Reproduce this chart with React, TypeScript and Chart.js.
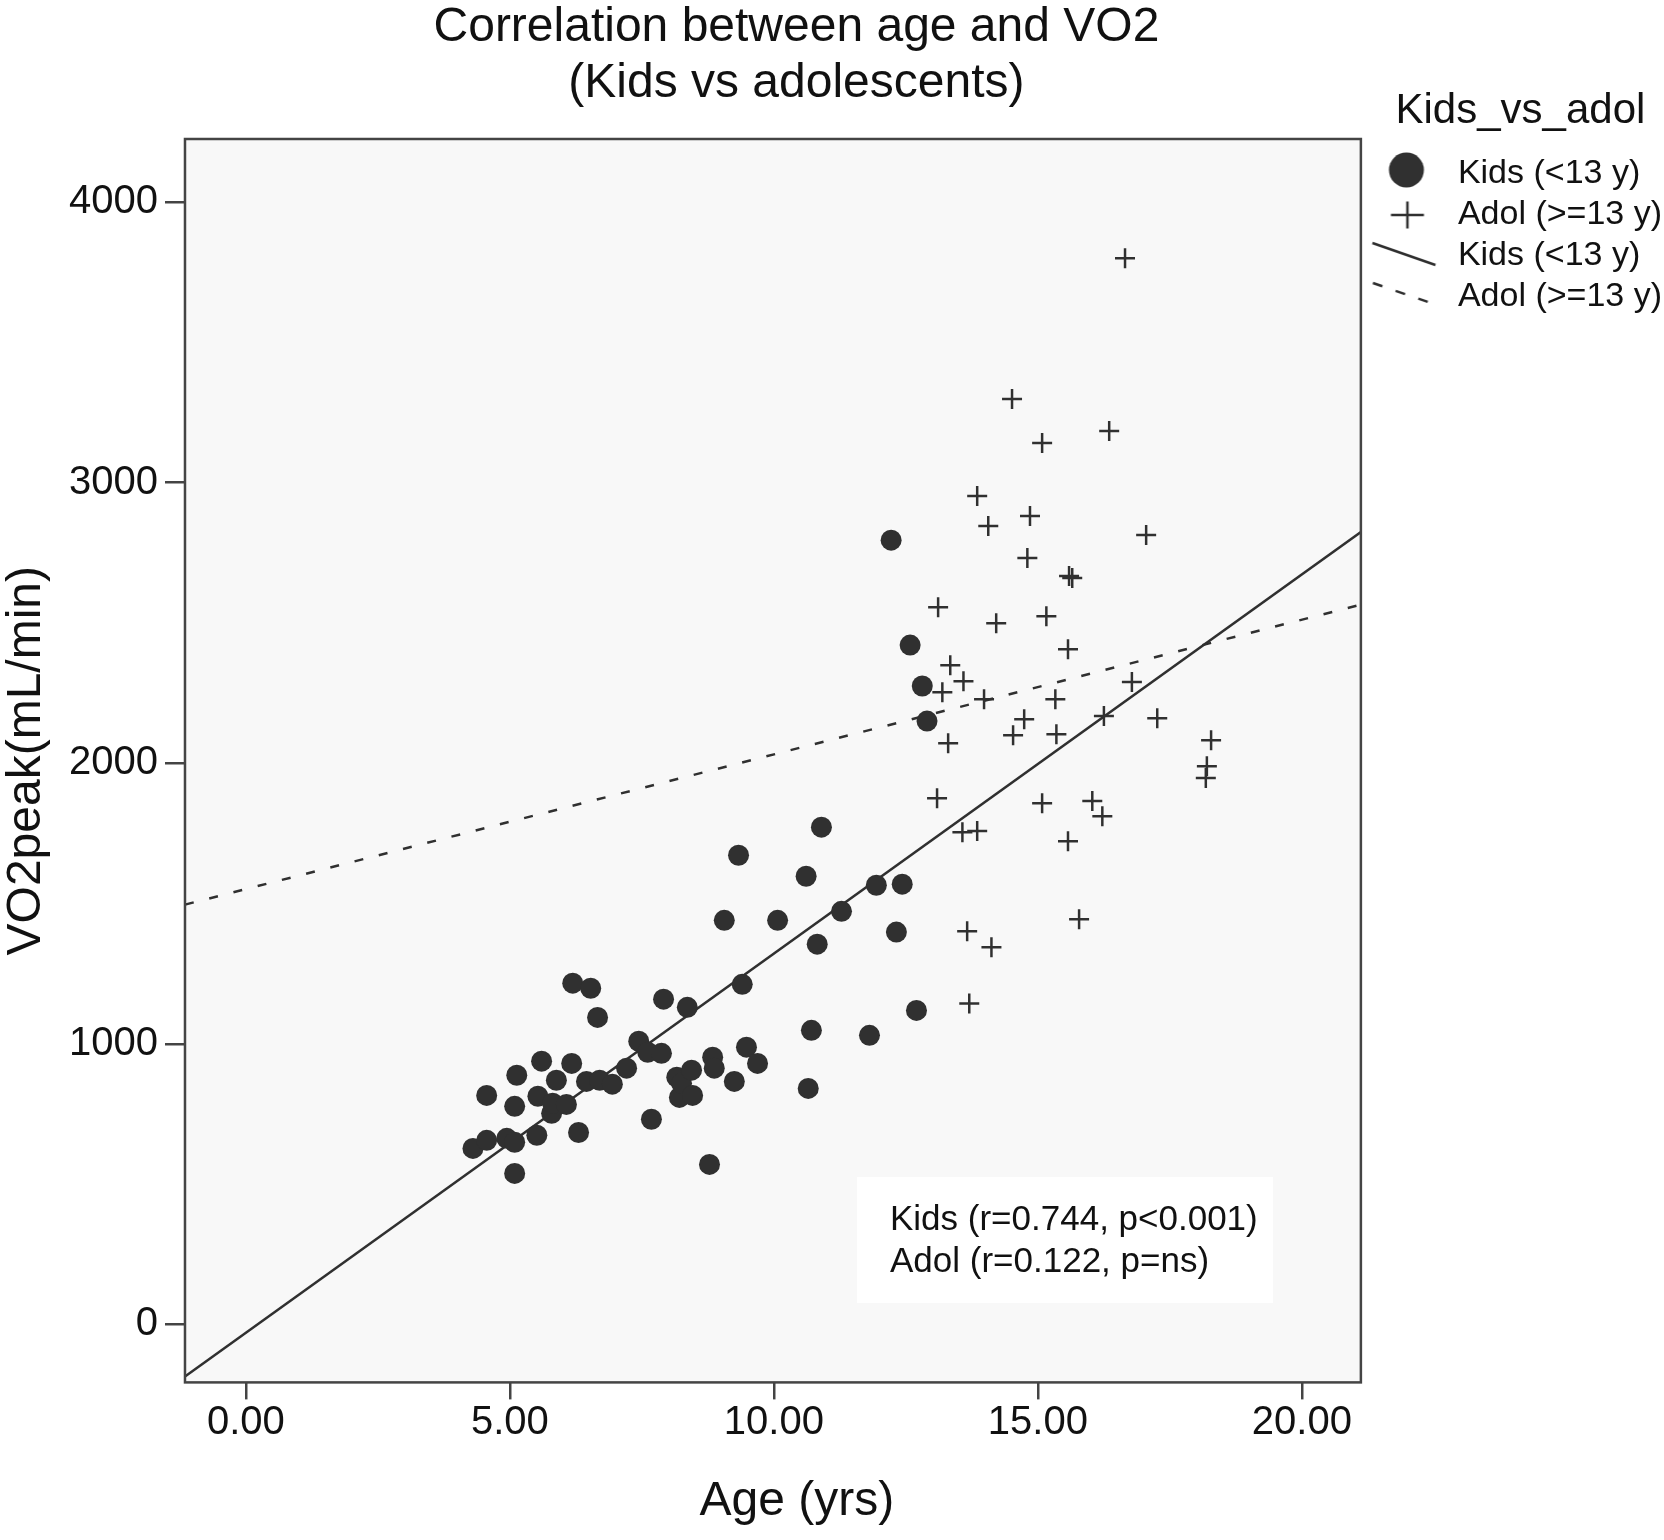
import React, { useEffect, useRef } from 'react';
import { Chart, registerables } from 'chart.js';

Chart.register(...registerables);

// ---- data ----
const kidsAge = [4.30, 4.56, 4.56, 4.94, 5.09, 5.09, 5.13, 5.09, 5.51, 5.53, 5.60, 5.79, 5.81, 5.88, 6.07, 6.17, 6.19, 6.30, 6.45, 6.53, 6.66, 6.70, 6.94, 7.21, 7.44, 7.61, 7.68, 7.87, 7.91, 8.16, 8.21, 8.25, 8.36, 8.44, 8.46, 8.78, 8.84, 8.87, 9.06, 9.25, 9.33, 9.40, 9.48, 9.69, 10.07, 10.61, 10.65, 10.71, 10.82, 10.90, 11.28, 11.81, 11.94, 12.22, 12.32, 12.43, 12.58, 12.70, 12.81, 12.90];
const kidsVO2 = [627, 656, 816, 663, 649, 538, 888, 777, 674, 813, 938, 752, 788, 870, 784, 930, 1216, 684, 866, 1198, 1094, 870, 856, 913, 1009, 970, 731, 966, 1159, 881, 809, 859, 1130, 906, 816, 570, 952, 913, 1440, 866, 1672, 1212, 988, 930, 1440, 1597, 841, 1048, 1355, 1772, 1472, 1030, 1565, 2795, 1398, 1569, 2421, 1119, 2275, 2150];

const adolAge = [16.65, 14.51, 16.35, 15.08, 13.85, 14.85, 14.06, 17.05, 14.80, 15.59, 15.65, 13.11, 15.16, 14.21, 15.57, 13.34, 13.59, 13.19, 13.98, 15.33, 16.78, 14.74, 16.25, 17.26, 14.53, 15.35, 13.30, 18.28, 18.20, 18.18, 13.09, 15.08, 16.03, 16.22, 13.57, 13.85, 15.57, 15.78, 13.66, 14.12, 13.70];
const adolVO2 = [3800, 3298, 3184, 3141, 2952, 2881, 2845, 2813, 2731, 2667, 2660, 2556, 2524, 2499, 2406, 2349, 2292, 2253, 2228, 2228, 2289, 2157, 2168, 2160, 2100, 2103, 2071, 2082, 1989, 1947, 1875, 1857, 1865, 1811, 1754, 1758, 1722, 1444, 1401, 1344, 1144];

// fit lines: end points read at the plot edges
const fitAge = [-1.154, 21.117];
const kidsFitVO2 = [-186, 2824];
const adolFitVO2 = [1496, 2565];

const xTickValues = [0, 5, 10, 15, 20];
const yTickValues = [0, 1000, 2000, 3000, 4000];
const xRange = [-1.154, 21.117];
const yRange = [-206.8, 4224.6];

const seriesLabels = ['Kids (<13 y)', 'Adol (>=13 y)', 'Kids (<13 y)', 'Adol (>=13 y)'];
const titleLines = ['Correlation between age and VO2', '(Kids vs adolescents)'];
const legendTitle = 'Kids_vs_adol';
const annotationLines = ['Kids (r=0.744, p<0.001)', 'Adol (r=0.122, p=ns)'];

const FONT = '"Liberation Sans", Arial, Helvetica, sans-serif';
const INK = '#303030';
const TEXT = '#111111';
const AXIS = '#444444';

function makeIcon(draw: (ctx: CanvasRenderingContext2D) => void): HTMLCanvasElement {
  const c = document.createElement('canvas');
  c.width = 80;
  c.height = 48;
  const ctx = c.getContext('2d')!;
  draw(ctx);
  return c;
}

function shiftDraw(obj: any, key: string, ctx: CanvasRenderingContext2D, dx: number) {
  if (!obj || typeof obj[key] !== 'function') return;
  const orig = obj[key].bind(obj);
  obj[key] = (...args: any[]) => {
    ctx.save();
    ctx.translate(dx, 0);
    orig(...args);
    ctx.restore();
  };
}

export default function App() {
  const ref = useRef<HTMLCanvasElement>(null);

  useEffect(() => {
    const canvas = ref.current;
    if (!canvas) return;

    const icons = [
      makeIcon((ctx) => {
        ctx.fillStyle = INK;
        ctx.beginPath();
        ctx.arc(42, 20, 17.5, 0, Math.PI * 2);
        ctx.fill();
      }),
      makeIcon((ctx) => {
        ctx.strokeStyle = INK;
        ctx.lineWidth = 2.5;
        ctx.beginPath();
        ctx.moveTo(43 - 16.5, 24);
        ctx.lineTo(43 + 16.5, 24);
        ctx.moveTo(43, 24 - 13.5);
        ctx.lineTo(43, 24 + 13.5);
        ctx.stroke();
      }),
      makeIcon((ctx) => {
        ctx.strokeStyle = INK;
        ctx.lineWidth = 2.5;
        ctx.beginPath();
        ctx.moveTo(39.5 - 31.5, 22 - 11);
        ctx.lineTo(39.5 + 31.5, 22 + 11);
        ctx.stroke();
      }),
      makeIcon((ctx) => {
        ctx.strokeStyle = INK;
        ctx.lineWidth = 2.5;
        ctx.setLineDash([10, 14]);
        ctx.beginPath();
        ctx.moveTo(37.5 - 29, 20 - 10);
        ctx.lineTo(37.5 + 29, 20 + 10);
        ctx.stroke();
      }),
    ];

    const decor = {
      id: 'decor',
      beforeDraw(chart: any) {
        const { ctx, chartArea: a, width, height } = chart;
        ctx.save();
        ctx.fillStyle = '#ffffff';
        ctx.fillRect(0, 0, width, height);
        ctx.fillStyle = '#f8f8f8';
        ctx.fillRect(a.left, a.top, a.right - a.left, a.bottom - a.top);
        ctx.fillStyle = '#ffffff';
        ctx.fillRect(a.left + 672, a.top + 1038, 416, 126);
        ctx.restore();
      },
      afterDraw(chart: any) {
        const { ctx, chartArea: a } = chart;
        ctx.save();
        ctx.strokeStyle = AXIS;
        ctx.lineWidth = 2.5;
        ctx.strokeRect(a.left, a.top, a.right - a.left, a.bottom - a.top);
        ctx.fillStyle = TEXT;
        ctx.font = `35px ${FONT}`;
        ctx.textAlign = 'left';
        ctx.textBaseline = 'alphabetic';
        annotationLines.forEach((t, i) => {
          ctx.fillText(t, a.left + 705, a.top + 1091 + i * 42);
        });
        ctx.restore();
      },
    };

    const chart = new Chart(canvas, {
      type: 'scatter',
      data: {
        datasets: [
          {
            label: seriesLabels[0],
            data: kidsAge.map((x, i) => ({ x, y: kidsVO2[i] })),
            pointStyle: 'circle',
            pointRadius: 10.5,
            pointBorderWidth: 0,
            backgroundColor: INK,
            borderColor: INK,
          },
          {
            label: seriesLabels[1],
            data: adolAge.map((x, i) => ({ x, y: adolVO2[i] })),
            pointStyle: 'cross',
            pointRadius: 10,
            pointBorderWidth: 2.5,
            pointBorderColor: INK,
            backgroundColor: INK,
            borderColor: INK,
          },
          {
            label: seriesLabels[2],
            data: fitAge.map((x, i) => ({ x, y: kidsFitVO2[i] })),
            showLine: true,
            pointRadius: 0,
            borderColor: INK,
            borderWidth: 2.5,
            backgroundColor: INK,
          },
          {
            label: seriesLabels[3],
            data: fitAge.map((x, i) => ({ x, y: adolFitVO2[i] })),
            showLine: true,
            pointRadius: 0,
            borderColor: INK,
            borderWidth: 2.5,
            borderDash: [9, 16],
            backgroundColor: INK,
          },
        ],
      },
      options: {
        animation: false,
        responsive: false,
        events: [],
        layout: { padding: { left: 0, right: -8, top: 0, bottom: 0 } },
        scales: {
          x: {
            type: 'linear',
            position: 'bottom',
            min: xRange[0],
            max: xRange[1],
            afterBuildTicks: (s: any) => {
              s.ticks = xTickValues.map((v) => ({ value: v }));
            },
            ticks: {
              callback: (v: any) => Number(v).toFixed(2),
              font: { size: 40, family: FONT, lineHeight: 1.2 },
              color: TEXT,
              padding: 0,
              maxRotation: 0,
              autoSkip: false,
            },
            grid: { drawOnChartArea: false, drawTicks: true, tickLength: 17, color: AXIS, lineWidth: 2.5 },
            border: { display: false },
            title: {
              display: true,
              text: 'Age (yrs)',
              font: { size: 48, family: FONT, lineHeight: 1.2 },
              color: TEXT,
              padding: { top: 26, bottom: 9 },
            },
          },
          y: {
            type: 'linear',
            min: yRange[0],
            max: yRange[1],
            afterBuildTicks: (s: any) => {
              s.ticks = yTickValues.map((v) => ({ value: v }));
            },
            ticks: {
              callback: (v: any) => String(v),
              font: { size: 40, family: FONT, lineHeight: 1.2 },
              color: TEXT,
              padding: 7,
            },
            grid: { drawOnChartArea: false, drawTicks: true, tickLength: 20, color: AXIS, lineWidth: 2.5 },
            border: { display: false },
            title: {
              display: true,
              text: 'VO2peak(mL/min)',
              font: { size: 48, family: FONT, lineHeight: 1.1 },
              color: TEXT,
              padding: { top: 0, bottom: 9.2 },
            },
          },
        },
        plugins: {
          title: {
            display: true,
            text: titleLines,
            fullSize: false,
            font: { size: 48, family: FONT, lineHeight: 56 / 48, weight: 'normal' },
            color: TEXT,
            padding: { top: 0, bottom: 27 },
          },
          legend: {
            display: true,
            position: 'right',
            align: 'start',
            fullSize: true,
            title: {
              display: true,
              text: legendTitle,
              font: { size: 42, family: FONT, lineHeight: 1.2 },
              color: TEXT,
              padding: { top: 90.5, bottom: 9.1 },
            },
            labels: {
              usePointStyle: true,
              pointStyleWidth: 73,
              padding: 7,
              font: { size: 34, family: FONT },
              color: TEXT,
              generateLabels: (ch: any) =>
                ch.data.datasets.map((ds: any, i: number) => ({
                  text: ds.label,
                  pointStyle: icons[i],
                  fillStyle: INK,
                  strokeStyle: INK,
                  lineWidth: 0,
                  hidden: false,
                  datasetIndex: i,
                  fontColor: TEXT,
                })),
            },
          },
          tooltip: { enabled: false },
        },
      } as any,
      plugins: [decor],
    });

    // the reference centres its titles slightly right of the plot frame
    const ctx = chart.ctx;
    shiftDraw((chart as any).titleBlock, 'draw', ctx, 23.5);
    shiftDraw(chart.scales.x, 'drawTitle', ctx, 24);
    shiftDraw((chart as any).legend, 'drawTitle', ctx, 4);
    chart.draw();

    return () => chart.destroy();
  }, []);

  return (
    <div style={{ position: 'absolute', left: 0, top: 0, width: 1664, height: 1540, background: '#ffffff' }}>
      <canvas ref={ref} width={1664} height={1540} style={{ display: 'block', width: 1664, height: 1540 }} />
    </div>
  );
}
